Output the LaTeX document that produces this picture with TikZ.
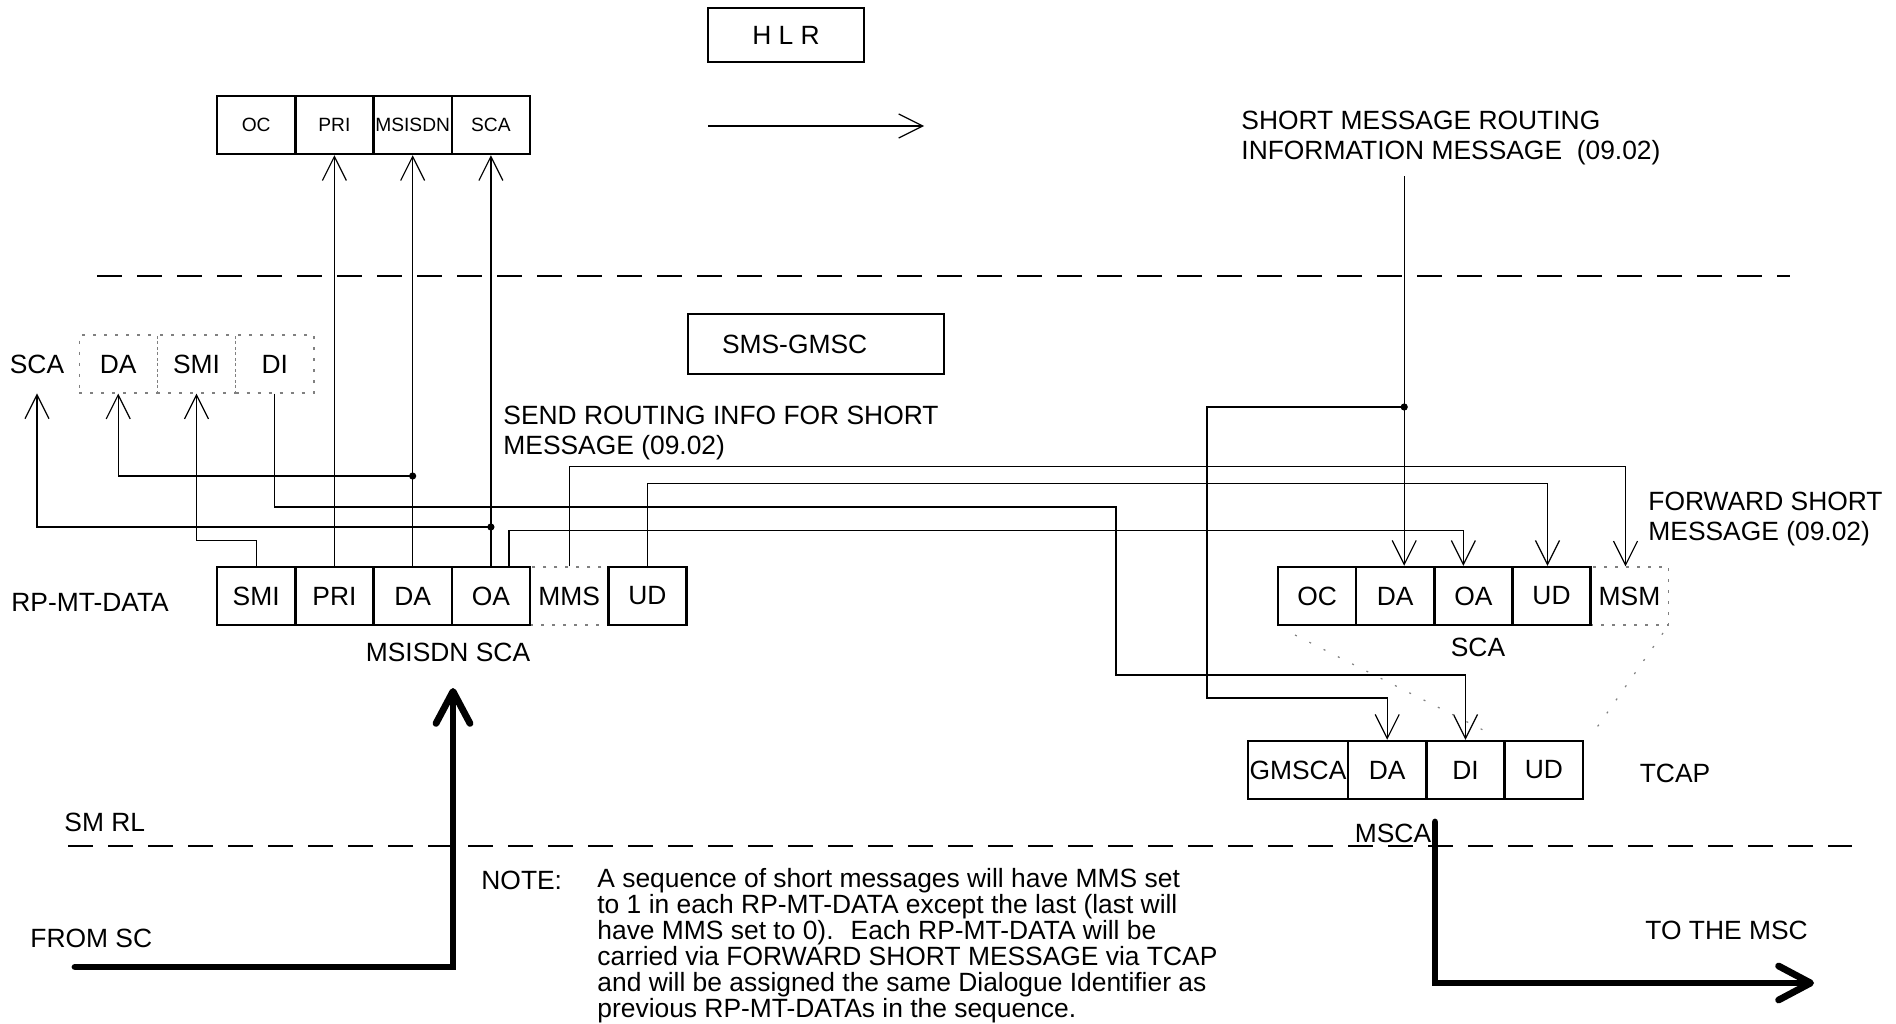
\documentclass[tikz,border=0pt]{standalone}
\usepackage{fontspec}
\setmainfont{Liberation Sans}
\usetikzlibrary{arrows.meta}

\begin{document}
\begin{tikzpicture}[x=0.5pt,y=-0.5pt,
    font=\fontsize{13.2}{15}\selectfont,
    cell/.style={draw,line width=1.2pt,minimum width=39.1pt,minimum height=29pt,inner sep=0pt},
    dcell/.style={draw=gray,dash pattern=on 1.5pt off 4pt,line width=0.6pt,minimum width=39.1pt,minimum height=29pt,inner sep=0pt},
    small/.style={font=\fontsize{9.6}{11}\selectfont},
    lbl/.style={inner sep=0pt,anchor=west},
    txt/.style={inner sep=0pt,anchor=north west,align=left},
    arr/.style={line width=0.6pt,-{Straight Barb[length=12pt,width=12pt]}},
    fat/.style={line width=3.4pt,line cap=round,-{Straight Barb[round,length=16pt,width=17pt]}},
    sep/.style={line width=0.8pt,dash pattern=on 12.5pt off 7.5pt},
    frame/.style={draw,line width=0.8pt,inner sep=0pt}]
\useasboundingbox (0,0) rectangle (1896,1023);

% entities
\node[frame,minimum width=78pt,minimum height=27pt] (hlr) at (786,35) {H L R};
\node[frame,minimum height=30pt,inner xsep=17pt,text width=94pt,align=left] (gmsc) at (816,344) {SMS-GMSC};

% routing info message to the HLR
\foreach \n [count=\i] in {OC,PRI,MSISDN,SCA}
  \node[cell,small] (h\n) at (177.9+78.25*\i,125) {\n};
\coordinate (hA) at (708,126);
\coordinate (hB) at (924,126);
\draw[arr] (hA) -- (hB);

% fields kept in the SMS-GMSC
\foreach \n [count=\i] in {DA,SMI,DI}
  \node[dcell] (d\n) at (39.9+78.3*\i,364) {\n};
\node[inner sep=0pt,minimum height=29pt] (lSCA) at (37,364) {SCA};

% RP-MT-DATA
\node[dcell] (rpMMS) at (569.1,596) {MMS};
\foreach \n [count=\i] in {SMI,PRI,DA,OA}
  \node[cell] (rp\n) at (177.9+78.25*\i,596) {\n};
\node[cell] (rpUD) at (647.4,596) {UD};

% forward short message
\node[dcell] (fMSM) at (1629.5,596) {MSM};
\foreach \n [count=\i] in {OC,DA,OA,UD}
  \node[cell] (f\n) at (1238.9+78.15*\i,596) {\n};

% TCAP
\node[cell,minimum width=50pt] (cGMSCA) at (1298,770) {GMSCA};
\foreach \n [count=\i] in {DA,DI,UD}
  \node[cell] (c\n) at (1308.9+78.3*\i,770) {\n};

% labels
\node[lbl] (rpLbl) at (11,602) {RP-MT-DATA};
\node (msisdnLbl) at (448,652) {MSISDN SCA};
\node (fSCA) at (1478,647) {SCA};
\node (tcap) at (1675,773) {TCAP};
\node (msca) at (1393,833) {MSCA};
\node[lbl] (smrl) at (64,822) {SM RL};
\node[lbl] (fromSC) at (30,938) {FROM SC};
\node[lbl] (toMSC) at (1645,930) {TO THE MSC};
\node[txt] (smri) at (1241,111) {SHORT MESSAGE ROUTING\\INFORMATION MESSAGE~ (09.02)};
\node[txt] (sri) at (503,406) {SEND ROUTING INFO FOR SHORT\\MESSAGE (09.02)};
\node[txt] (fsm) at (1648,492) {FORWARD SHORT\\MESSAGE (09.02)};
\node[txt] (note) at (481,871) {NOTE:};
\node[txt,font=\fontsize{13.2}{13}\selectfont] (noteText) at (597,868)
  {A sequence of short messages will have MMS set\\
   to 1 in each RP-MT-DATA except the last (last will\\
   have MMS set to 0).~ Each RP-MT-DATA will be\\
   carried via FORWARD SHORT MESSAGE via TCAP\\
   and will be assigned the same Dialogue Identifier as\\
   previous RP-MT-DATAs in the sequence.};

% layer boundaries
\draw[sep] (97,276) -- (1790,276);
\draw[sep] (68,846) -- (1852,846);

% RP-MT-DATA -> HLR request
\draw[arr] (rpPRI.north) -- (hPRI.south);
\draw[arr] (rpDA.north) -- (hMSISDN.south);
\draw[arr] (rpOA.north) -- (hSCA.south);
\coordinate (jDA) at (rpDA.north |- 0,476);
\coordinate (jSCA) at (rpOA.north |- 0,527);
\draw[arr] (jDA) -| (dDA.south);
\draw[arr] (jSCA) -| (lSCA.south);
\draw[arr] (rpSMI.north) -- ++(0,-25) -| (dSMI.south);
\fill (jDA) circle (1.8pt) (jSCA) circle (1.8pt);

% RP-MT-DATA -> forward short message
\draw[arr] ([xshift=9pt]rpOA.north) -- ++(0,-35) -| ([xshift=-5pt]fOA.north);
\draw[arr] (rpMMS.north) -- ++(0,-100) -| ([xshift=-2pt]fMSM.north);
\draw[arr] (rpUD.north) -- ++(0,-82) -| ([xshift=-2pt]fUD.north);

% HLR answer
\coordinate (smriEnd) at ([xshift=4.5pt]fDA.north |- 0,176);
\coordinate (jGW) at (smriEnd |- 0,407);
\draw[arr] (smriEnd) -- ([xshift=4.5pt]fDA.north);
\draw[arr] (jGW) -| (1207,698) -| (cDA.north);
\fill (jGW) circle (1.8pt);
\draw[arr] (dDI.south) |- (1116,507) -- (1116,675) -| (cDI.north);

% mapping onto TCAP
\draw[gray,line width=0.6pt,dash pattern=on 1pt off 7pt] (1295,635) -- (1493,735) (1663,633) -- (1593,733);

% in and out
\coordinate (scIn) at (75,967);
\coordinate (scTip) at (453,688);
\draw[fat] (scIn) -| (scTip);
\coordinate (mscTop) at (1435,822);
\coordinate (mscTip) at (1814,983);
\draw[fat] (mscTop) |- (mscTip);
\end{tikzpicture}
\end{document}
